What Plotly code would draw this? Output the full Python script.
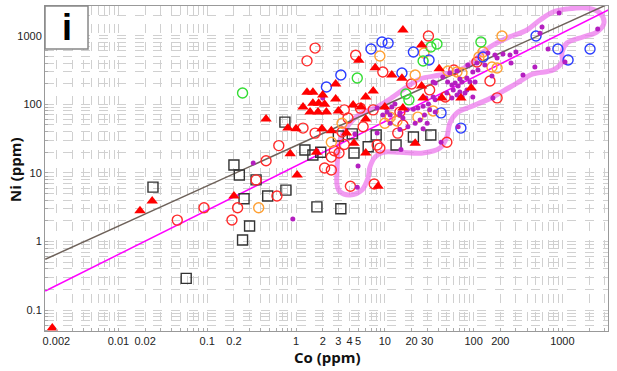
import plotly.graph_objects as go

# ---------------- data (ppm) ----------------
tri_co = [0.0018, 0.0175, 0.024, 0.2, 0.46, 0.81, 1.0, 1.2, 1.33, 0.86, 1.03, 1.55, 1.55, 1.8, 2.0, 2.1,
          2.8, 2.8, 1.44, 1.77, 2.2, 3.0, 4.4, 5.4, 6.1, 7.4, 6.1, 1.96, 2.5, 3.7, 4.5, 1.7, 6.1, 8.4,
          5.1, 7.8, 12, 15.6, 16, 26, 41, 26, 27, 22, 94, 72, 16, 10, 44]
tri_ni = [0.055, 2.8, 3.9, 4.6, 61, 45, 44, 91, 150, 19, 9.3, 150, 104, 104, 137, 100,
          119, 198, 77, 77, 77, 80, 98, 91, 128, 156, 61, 44, 41, 38, 27, 20, 19.5, 6.4,
          440, 340, 267, 240, 1210, 730, 330, 185, 124, 27, 173, 124, 88, 91, 124]

rc_co = [0.046, 0.092, 0.19, 0.22, 0.61, 0.355, 0.46, 0.64, 1.2, 1.33, 1.64, 4.7, 9.5, 31, 20, 32,
         3.5, 7.4, 14.8, 5.3, 1.64, 3.3, 2.7, 2.5, 2.1, 2.5, 4.1, 7.6, 8.2, 8.8, 3.5, 14, 5.7, 3.85,
         16, 50, 60, 109, 153, 184, 48, 3.05]
rc_ni = [2.05, 3.1, 2.06, 3.1, 4.6, 7.9, 15, 25, 45, 430, 660, 520, 296, 990, 198, 162,
         83, 83, 77, 88, 38, 39.5, 21, 17, 11.8, 11, 6.4, 6.9, 25.5, 23, 26, 38, 47, 63,
         50, 28, 316, 414, 219, 124, 128, 19.5]

oc_co = [0.38, 8.8, 27.6, 22, 51.5, 65, 74, 3.3, 2.5, 10, 11.5, 13.7, 23.6, 35, 209, 128, 115, 161, 184]
oc_ni = [3.1, 505, 560, 267, 306, 296, 286, 53, 28, 53, 65, 57, 65, 80, 990, 578, 490, 350, 338]

bc_co = [9.3, 10.9, 7.0, 21, 31.5, 3.2, 2.2, 15.6, 43, 72, 505, 890, 2050, 1160, 128]
bc_ni = [810, 780, 640, 578, 443, 267, 179, 286, 75, 45, 990, 640, 640, 443, 490]

gc_co = [0.25, 33, 38.7, 27, 4.9, 17.3, 18.7, 121]
gc_ni = [146, 684, 757, 428, 242, 141, 116, 810]

sq_co = [0.058, 0.0245, 0.26, 0.30, 0.25, 0.48, 0.77, 0.2, 0.23, 0.355, 0.75, 3.0, 4.3, 8.0,
         21, 33, 13.4, 6.5, 4.5, 1.9, 1.55, 1.26, 1.72, 3.2]
sq_ni = [0.29, 6.2, 4.2, 1.68, 1.05, 4.6, 5.6, 13, 9.3, 7.9, 55, 34.5, 37, 35.7,
         33.4, 35.7, 25.5, 24, 19.5, 20, 18.2, 21.6, 3.2, 3.0]

pd_co = [0.33, 0.92, 2.0, 8.2, 10.3, 4.6, 8.2, 5.0, 4.9, 1.72, 15.2, 43, 18.2, 27, 30, 25,
         45, 37, 57, 67, 84, 91, 74, 59, 70, 84, 57, 74, 98, 42, 50, 37, 31, 35, 27, 23.6,
         21, 17.8, 14.8, 12, 11.5, 16, 22, 920, 590, 560, 2500, 690, 1070, 145, 174, 214,
         257, 300, 134, 112, 86, 98, 490, 360, 165, 184, 264, 161, 104, 109, 65, 54, 70, 62,
         65, 80, 29, 32, 28, 37, 10.6, 9.5, 11.5, 14.8, 67, 35, 51, 13, 14.8]
pd_ni = [13.9, 2.13, 124, 88, 88, 37, 38, 12.6, 6.2, 21, 22, 28, 47, 44, 53, 59,
         250, 204, 191, 185, 242, 211, 211, 162, 151, 162, 124, 128, 128, 124, 146, 116, 101, 128, 94, 88,
         85, 83, 75, 91, 70, 63, 53, 2140, 1340, 1090, 1250, 640, 414, 560, 523, 541,
         523, 578, 374, 316, 374, 296, 350, 267, 124, 473, 400, 259, 211, 400, 306, 286, 234, 204,
         137, 146, 124, 83, 70, 77, 77, 70, 53, 70, 47, 211, 211, 101, 43]

# pink contour outline
ct_co = [2.9, 2.9, 2.97, 3.13, 3.75, 5.26, 8.17, 12.4, 17.8, 24.9, 41.8, 70.3, 98.4, 121, 153,
         238, 399, 560, 784, 1127, 1892, 2650, 2940, 2450, 1706, 1127, 990, 990, 784, 467, 308,
         198, 142, 91, 65, 54, 50, 41.8, 27, 14.8, 9.5, 7.76, 6.8, 6.47, 5.5, 4.06, 3.13, 2.9]
ct_ni = [6.67, 11.0, 19.5, 30.2, 46.7, 72.3, 91.4, 128, 179, 234, 267, 316, 414, 541, 684,
         926, 1210, 1693, 2215, 2449, 2535, 2140, 1531, 1132, 957, 783, 578, 414, 316, 277, 204,
         146, 116, 91.4, 75, 53, 33.4, 23, 19.5, 20, 20, 17, 12.2, 8.4, 5.6, 4.76, 5.27, 6.67]

# regression lines
line_co = [0.0015, 3300]
grey_ni = [0.55, 2900]
mag_ni = [0.19, 2370]

x_tickvals = [0.002, 0.01, 0.02, 0.1, 0.2, 1, 2, 3, 4, 5, 10, 20, 30, 100, 200, 1000]
x_ticktext = ["0.002", "0.01", "0.02", "0.1", "0.2", "1", "2", "3", "4", "5", "10", "20", "30", "100", "200", "1000"]
y_tickvals = [0.1, 1, 10, 100, 1000]
y_ticktext = ["0.1", "1", "10", "100", "1000"]

# ---------------- figure ----------------
fig = go.Figure()

fig.add_trace(go.Scatter(x=ct_co, y=ct_ni, mode="lines", line=dict(color="rgba(236,120,236,0.75)", width=5, shape="spline"),
                         hoverinfo="skip"))
fig.add_trace(go.Scatter(x=line_co, y=grey_ni, mode="lines", line=dict(color="#6e625a", width=1.5)))
fig.add_trace(go.Scatter(x=line_co, y=mag_ni, mode="lines", line=dict(color="#ff00ff", width=1.5)))

def open_marks(x, y, sym, col):
    return go.Scatter(x=x, y=y, mode="markers",
                      marker=dict(symbol=sym, size=10, color=col, line=dict(color=col, width=1.4)))

fig.add_trace(open_marks(sq_co, sq_ni, "square-open", "#333333"))
fig.add_trace(open_marks(rc_co, rc_ni, "circle-open", "#ff2a2a"))
fig.add_trace(open_marks(oc_co, oc_ni, "circle-open", "#ffa033"))
fig.add_trace(open_marks(bc_co, bc_ni, "circle-open", "#2b3cff"))
fig.add_trace(open_marks(gc_co, gc_ni, "circle-open", "#33dd33"))
fig.add_trace(go.Scatter(x=pd_co, y=pd_ni, mode="markers", marker=dict(symbol="circle", size=5, color="#b41fc0")))
fig.add_trace(go.Scatter(x=tri_co, y=tri_ni, mode="markers",
                         marker=dict(symbol="triangle-up", size=10, color="#ff0000", line=dict(width=0))))

def minor_vals(lo, hi):
    v = []
    for d in range(lo, hi + 1):
        for k in range(1, 10):
            v.append(k * 10.0 ** d)
    return v

grid_col = "#d0d0d0"
fig.update_xaxes(type="log", range=[-2.827, 3.514],
                 tickmode="array", tickvals=x_tickvals, ticktext=x_ticktext,
                 showgrid=True, gridcolor=grid_col, griddash="dash", gridwidth=1,
                 minor=dict(tickmode="array", tickvals=minor_vals(-3, 3), showgrid=True,
                            gridcolor=grid_col, griddash="dash", ticks="inside", ticklen=3, tickcolor="#aaa"),
                 showline=True, linecolor="#999", linewidth=1, mirror=True,
                 ticks="", tickfont=dict(family="Arial", size=11, color="#222"), zeroline=False)
fig.update_yaxes(type="log", range=[-1.305, 3.433],
                 tickmode="array", tickvals=y_tickvals, ticktext=y_ticktext,
                 showgrid=True, gridcolor=grid_col, griddash="dash", gridwidth=1,
                 minor=dict(tickmode="array", tickvals=minor_vals(-2, 3), showgrid=True,
                            gridcolor=grid_col, griddash="dash", ticks="inside", ticklen=3, tickcolor="#aaa"),
                 showline=True, linecolor="#999", linewidth=1, mirror=True,
                 ticks="", tickfont=dict(family="Arial", size=11, color="#222"), zeroline=False)

fig.add_shape(type="rect", xref="paper", yref="paper", x0=0, x1=0.0764, y0=0.868, y1=1,
              line=dict(color="#888", width=1.5), fillcolor="white", layer="above")
fig.add_annotation(text="<b>i</b>", xref="paper", yref="paper", x=0.0382, y=0.934,
                   showarrow=False, font=dict(family="Arial", size=36, color="black"),
                   xanchor="center", yanchor="middle")

fig.add_annotation(text="<b>Co (ppm)</b>", xref="paper", yref="paper", x=(327 - 45) / 563, y=-(357 - 331) / 325,
                   showarrow=False, font=dict(family="Open Sans", size=15, color="#111"),
                   xanchor="center", yanchor="middle")
fig.add_annotation(text="<b>Ni (ppm)</b>", xref="paper", yref="paper", x=-(45 - 15) / 563, y=(331 - 170) / 325,
                   showarrow=False, textangle=-90, font=dict(family="Open Sans", size=15, color="#111"),
                   xanchor="center", yanchor="middle")

fig.update_layout(width=617, height=371, margin=dict(l=45, r=9, t=6, b=40),
                  paper_bgcolor="white", plot_bgcolor="white", showlegend=False)

fig.write_html("out.html")
